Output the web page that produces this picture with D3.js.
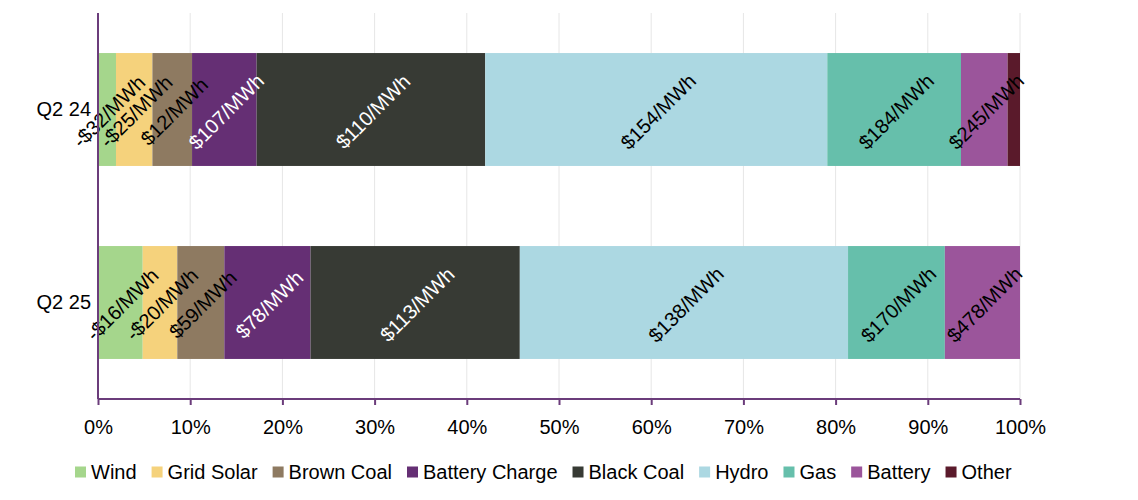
<!DOCTYPE html>
<html>
<head>
<meta charset="utf-8">
<script src="https://cdn.jsdelivr.net/npm/d3@7"></script>
<style>
  html, body { margin: 0; padding: 0; background: #fff; }
  svg { display: block; font-family: "Liberation Sans", Arial, Helvetica, sans-serif; }
</style>
</head>
<body>
<svg id="chart" width="1138" height="500"></svg>
<script>
// ---- data ----
const categories = ["Q2 24", "Q2 25"];
const seriesNames = ["Wind", "Grid Solar", "Brown Coal", "Battery Charge", "Black Coal", "Hydro", "Gas", "Battery", "Other"];
const seriesColors = ["#a5d68c", "#f5d27c", "#8e7a61", "#652f74", "#373a34", "#acd8e2", "#66bfab", "#9b559b", "#5a1a2b"];
const labelColors = ["#000", "#000", "#000", "#fff", "#fff", "#000", "#000", "#000", "#000"];
// share of volume (%) for each series, in category order
const shareQ224 = [1.95, 3.95, 4.3, 7.0, 24.8, 37.1, 14.5, 5.05, 1.35];
const shareQ225 = [4.85, 3.75, 5.1, 9.35, 22.7, 35.6, 10.5, 8.15, 0];
// price labels
const priceQ224 = ["-$32/MWh", "-$25/MWh", "$12/MWh", "$107/MWh", "$110/MWh", "$154/MWh", "$184/MWh", "$245/MWh", ""];
const priceQ225 = ["-$16/MWh", "-$20/MWh", "$59/MWh", "$78/MWh", "$113/MWh", "$138/MWh", "$170/MWh", "$478/MWh", ""];
const xTicks = [0, 10, 20, 30, 40, 50, 60, 70, 80, 90, 100];

const shares = [shareQ224, shareQ225];
const prices = [priceQ224, priceQ225];

// ---- layout ----
const svg = d3.select("#chart");
const mLeft = 98, mRight = 1020, mTop = 13, mBottom = 399;
const axisColor = "#6b3c7b";

const x = d3.scaleLinear().domain([0, 100]).range([mLeft, mRight]);
const y = d3.scaleBand().domain(categories).range([mTop, mBottom]).paddingInner(0.415).paddingOuter(0.2075);

// gridlines
svg.append("g").selectAll("line").data(xTicks.slice(1)).join("line")
  .attr("x1", d => x(d)).attr("x2", d => x(d))
  .attr("y1", mTop).attr("y2", mBottom)
  .attr("stroke", "#e6e6e6").attr("stroke-width", 1);

// stacked rows
const rows = categories.map((c, i) => {
  let cum = 0;
  return seriesNames.map((s, j) => {
    const v = shares[i][j];
    const seg = { cat: c, series: s, idx: j, x0: cum, x1: cum + v, price: prices[i][j] };
    cum += v;
    return seg;
  });
});

const barG = svg.append("g");
rows.forEach(row => {
  barG.append("g").selectAll("rect").data(row.filter(d => d.x1 > d.x0)).join("rect")
    .attr("x", d => x(d.x0))
    .attr("width", d => x(d.x1) - x(d.x0))
    .attr("y", d => y(d.cat))
    .attr("height", y.bandwidth())
    .attr("fill", d => seriesColors[d.idx]);
});

// labels
const labG = svg.append("g");
rows.forEach(row => {
  labG.append("g").selectAll("text").data(row.filter(d => d.price)).join("text")
    .attr("transform", d => `translate(${x((d.x0 + d.x1) / 2) + 2},${y(d.cat) + y.bandwidth() / 2 + 2}) rotate(-45)`)
    .attr("text-anchor", "middle")
    .attr("dominant-baseline", "central")
    .attr("font-size", 20)
    .attr("fill", d => labelColors[d.idx])
    .text(d => d.price);
});

// x axis
const xAxis = d3.axisBottom(x).tickValues(xTicks).tickFormat(d => d + "%").tickSize(6).tickPadding(15);
const gx = svg.append("g").attr("transform", `translate(0,${mBottom})`).call(xAxis);
gx.select(".domain").attr("stroke", axisColor).attr("stroke-width", 2).attr("d", `M${mLeft},0H${mRight}`);
gx.selectAll(".tick line").attr("stroke", axisColor).attr("stroke-width", 2);
gx.selectAll(".tick text").attr("font-size", 20).attr("fill", "#000").attr("font-family", null);

// y axis
const yAxis = d3.axisLeft(y).tickSize(0).tickPadding(7);
const gy = svg.append("g").attr("transform", `translate(${mLeft},0)`).call(yAxis);
gy.select(".domain").attr("stroke", axisColor).attr("stroke-width", 2).attr("d", `M0,${mTop}V${mBottom}`);
gy.selectAll(".tick text").attr("font-size", 20).attr("fill", "#000").attr("font-family", null);

// legend
const legend = svg.append("g").attr("transform", "translate(0,472)");
let lx = 75;
seriesNames.forEach((s, j) => {
  const g = legend.append("g").attr("transform", `translate(${lx},0)`);
  g.append("rect").attr("x", 0).attr("y", -5.5).attr("width", 11).attr("height", 11).attr("fill", seriesColors[j]);
  const t = g.append("text").attr("x", 16).attr("y", 0).attr("dominant-baseline", "central")
    .attr("font-size", 20).attr("fill", "#000").text(s);
  lx += 16 + t.node().getComputedTextLength() + 15;
});
</script>
</body>
</html>
